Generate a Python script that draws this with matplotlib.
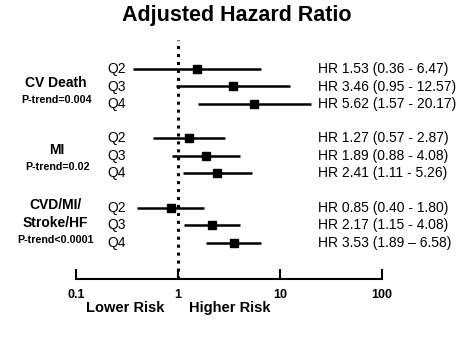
import numpy as np
import matplotlib
matplotlib.use('Agg')
import matplotlib.pyplot as plt
import matplotlib.transforms as mtransforms

plt.rcParams['font.family'] = ['Liberation Sans', 'DejaVu Sans']

# data
groups = ['CV Death', 'MI', 'CVD/MI/\nStroke/HF']
ptrend = ['P-trend=0.004', 'P-trend=0.02', 'P-trend<0.0001']
quartiles = ['Q2', 'Q3', 'Q4']
hr = [[1.53, 3.46, 5.62], [1.27, 1.89, 2.41], [0.85, 2.17, 3.53]]
lo = [[0.36, 0.95, 1.57], [0.57, 0.88, 1.11], [0.40, 1.15, 1.89]]
hi = [[6.47, 12.57, 20.17], [2.87, 4.08, 5.26], [1.80, 4.08, 6.58]]
labels = [['HR 1.53 (0.36 - 6.47)', 'HR 3.46 (0.95 - 12.57)', 'HR 5.62 (1.57 - 20.17)'],
          ['HR 1.27 (0.57 - 2.87)', 'HR 1.89 (0.88 - 4.08)', 'HR 2.41 (1.11 - 5.26)'],
          ['HR 0.85 (0.40 - 1.80)', 'HR 2.17 (1.15 - 4.08)', 'HR 3.53 (1.89 \u2013 6.58)']]
ticks = [0.1, 1, 10, 100]
tick_labels = ['0.1', '1', '10', '100']

W, H = 474, 340
fig = plt.figure(figsize=(W / 100, H / 100), dpi=100)
# axes in pixel layout: x 76..382, y 40..279 (from top)
ax = fig.add_axes([76 / W, 1 - 279 / H, (382 - 76) / W, (279 - 40) / H])
ax.set_xscale('log')
ax.set_xlim(0.1, 100)
ax.set_ylim(279, 40)  # pixel rows, top = 40

def row_y(g, i):
    return 69 + 69.5 * g + 17.5 * i

fig_x = mtransforms.blended_transform_factory(fig.transFigure, ax.transData)

for g in range(3):
    for i in range(3):
        y = row_y(g, i)
        ax.plot([lo[g][i], hi[g][i]], [y, y], color='black', lw=1.8, solid_capstyle='butt')
        ax.plot(hr[g][i], y, marker='s', color='black', ms=6)
        ax.text(107 / W, y, quartiles[i], transform=fig_x, fontsize=10,
                va='center', ha='left', clip_on=False)
        ax.text(318 / W, y, labels[g][i], transform=fig_x, fontsize=10,
                va='center', ha='left', clip_on=False)

# group labels
fig.text(56 / W, 1 - 83 / H, groups[0], fontsize=10, fontweight='bold', ha='center', va='center')
fig.text(57 / W, 1 - 100 / H, ptrend[0], fontsize=7.7, fontweight='bold', ha='center', va='center')
fig.text(57 / W, 1 - 150 / H, groups[1], fontsize=10, fontweight='bold', ha='center', va='center')
fig.text(57 / W, 1 - 167 / H, ptrend[1], fontsize=7.7, fontweight='bold', ha='center', va='center')
fig.text(55 / W, 1 - 214 / H, groups[2], fontsize=10, fontweight='bold', ha='center', va='center',
         linespacing=1.35)
fig.text(55.5 / W, 1 - 240 / H, ptrend[2], fontsize=7.7, fontweight='bold', ha='center', va='center')

ax.axvline(1, color='black', lw=2.2, ls=(0, (1, 1.6)))

for s in ['top', 'right', 'left']:
    ax.spines[s].set_visible(False)
ax.spines['bottom'].set_linewidth(1.5)
ax.set_yticks([])
ax.set_xticks(ticks)
ax.set_xticklabels(tick_labels, fontsize=9, fontweight='bold')
ax.minorticks_off()
ax.tick_params(axis='x', direction='in', length=7, width=1.5, pad=7)

fig.text(125 / W, 1 - 308 / H, 'Lower Risk', fontsize=10.5, fontweight='bold', ha='center', va='center')
fig.text(230 / W, 1 - 308 / H, 'Higher Risk', fontsize=10.5, fontweight='bold', ha='center', va='center')
fig.text(237 / W, 1 - 15 / H, 'Adjusted Hazard Ratio', fontsize=15.5, fontweight='bold',
         ha='center', va='center')

fig.savefig('out.png', dpi=100)
